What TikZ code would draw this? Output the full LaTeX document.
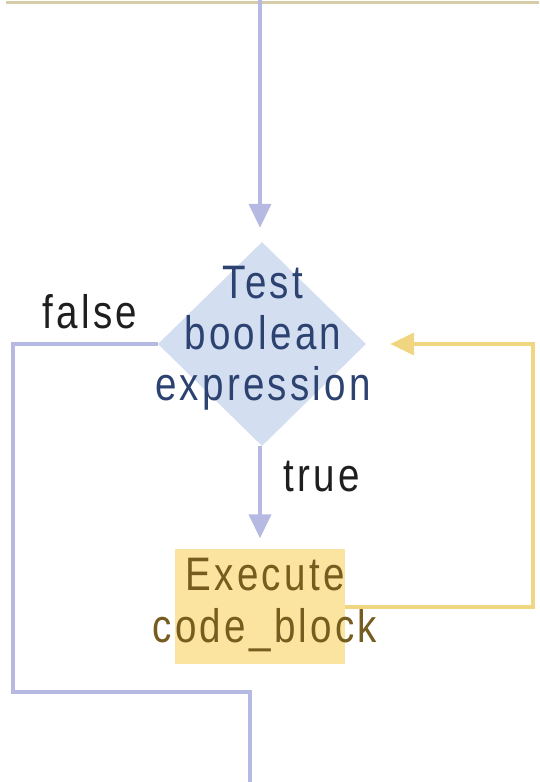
\documentclass[tikz,border=0pt]{standalone}
\usepackage{fontspec}
\setmainfont{Liberation Sans}[FakeStretch=0.82,LetterSpace=7]
\usetikzlibrary{shapes.geometric,arrows.meta}
\definecolor{lav}{RGB}{182,186,226}
\definecolor{gold}{RGB}{240,214,128}
\definecolor{tan}{RGB}{214,204,168}
\definecolor{dfill}{RGB}{212,222,241}
\definecolor{yfill}{RGB}{250,228,160}
\definecolor{bluetxt}{RGB}{44,66,112}
\definecolor{browntxt}{RGB}{118,92,30}
\definecolor{labtxt}{RGB}{30,30,30}
\tikzset{
  bigfont/.style={font=\fontsize{47}{50}\selectfont},
  flowline/.style={line width=4pt},
  tip/.style={-{Triangle[width=22pt,length=24pt]}},
  labeltext/.style={bigfont, text=labtxt, inner sep=0pt},
}
\begin{document}
\begin{tikzpicture}[x=1pt,y=-1pt]
\useasboundingbox (0,0) rectangle (539,782);
% top rule
\draw[tan, line width=3pt] (6,2) -- (539,2);
% decision diamond and its text
\node[diamond, fill=dfill, minimum width=208pt, minimum height=204pt, inner sep=0pt] (test) at (262,344) {};
\node[bigfont, text=bluetxt, align=center, inner sep=0pt] (testtxt) at (263,338)
  {Test\\[1pt]boolean\\[1pt]expression};
% process box and its text
\node[rectangle, fill=yfill, minimum width=170pt, minimum height=115pt, inner sep=0pt] (exec) at (260,606) {};
\node[bigfont, text=browntxt, align=center, inner sep=0pt] (exectxt) at (265,605)
  {Execute\\[2pt]code\_block};
% named points of the connectors
\coordinate (topin) at (260,0);
\coordinate (loopcorner) at (533,607);
\coordinate (falsecorner) at (13,692);
\coordinate (exitturn) at (250,692);
\coordinate (exitout) at (250,782);
% entry arrow
\draw[lav, flowline, tip, shorten >=14pt] (topin) -- (test.north -| topin);
% true branch
\draw[lav, flowline, tip, shorten >=10pt] (test.south -| topin) -- (exec.north -| topin);
% loop back to the test
\draw[gold, flowline, tip, shorten >=24pt] (exec.east |- loopcorner) -- (loopcorner) |- (test.east);
% false branch leaving the loop
\draw[lav, flowline] (test.west) -| (falsecorner) -- (exitturn) -- (exitout);
% branch labels
\node[labeltext] (falselbl) at (90,312) {false};
\node[labeltext] (truelbl) at (322,477) {true};
\end{tikzpicture}
\end{document}
